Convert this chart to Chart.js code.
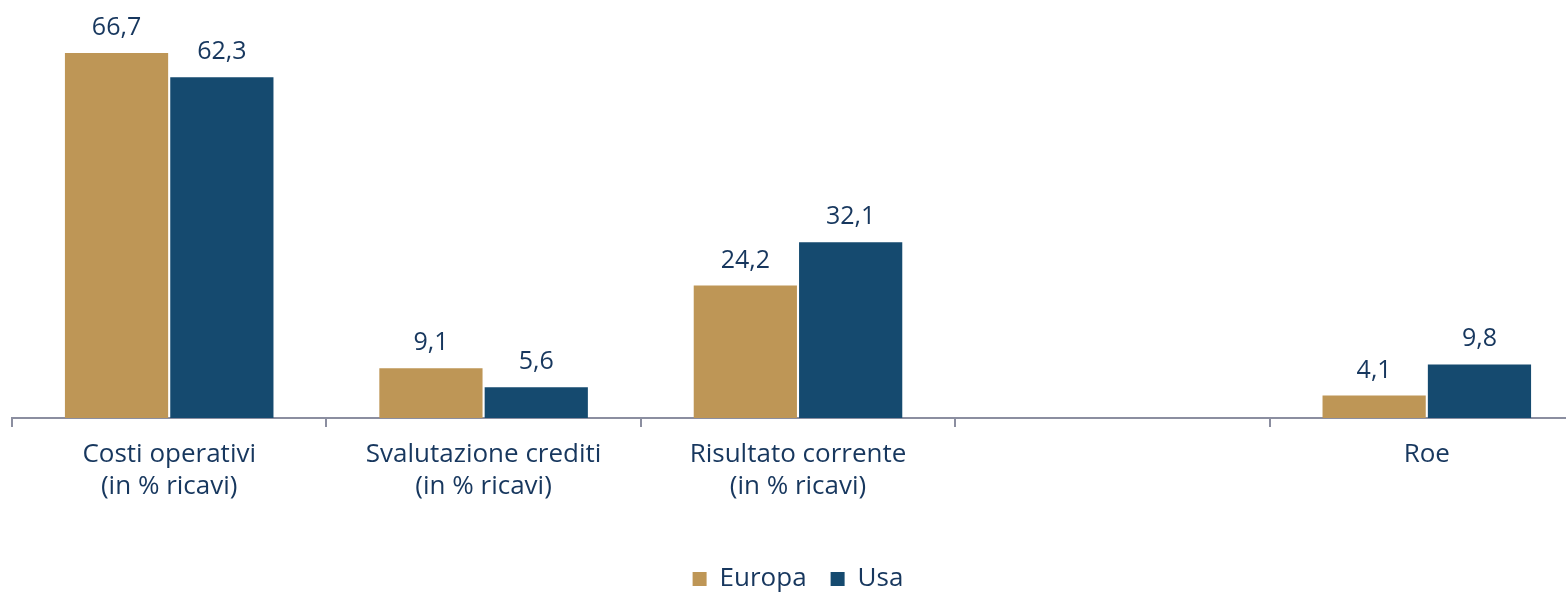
<!DOCTYPE html>
<html lang="it">
<head>
  <meta charset="UTF-8" />
  <title>Europa vs Usa</title>
  <script src="https://cdn.jsdelivr.net/npm/chart.js"></script>
  <style>
    html, body { margin: 0; padding: 0; background: #fff; overflow: hidden; }
    .wrap { width: 1608px; height: 602px; }
  </style>
</head>
<body>
  <div class="wrap"><canvas id="chart"></canvas></div>

  <script>
    // data
    const categories = [
      ["Costi operativi", "(in % ricavi)"],
      ["Svalutazione crediti", "(in % ricavi)"],
      ["Risultato corrente", "(in % ricavi)"],
      "",
      "Roe"
    ];
    const europa = [66.7, 9.1, 24.2, null, 4.1];
    const usa = [62.3, 5.6, 32.1, null, 9.8];

    const textColor = "#17375e";
    const fontFamily = "'Open Sans', sans-serif";

    // draws the value above each bar
    const valueLabels = {
      id: "valueLabels",
      afterDatasetsDraw(chart) {
        const ctx = chart.ctx;
        ctx.save();
        ctx.fillStyle = textColor;
        ctx.font = "25px " + fontFamily;
        ctx.textAlign = "center";
        ctx.textBaseline = "alphabetic";
        chart.data.datasets.forEach((ds, i) => {
          chart.getDatasetMeta(i).data.forEach((bar, j) => {
            const v = ds.data[j];
            if (v == null) return;
            ctx.fillText(v.toFixed(1).replace(".", ","), bar.x, bar.y - 18);
          });
        });
        ctx.restore();
      }
    };

    new Chart(document.getElementById("chart"), {
      type: "bar",
      data: {
        labels: categories,
        datasets: [
          { label: "Europa", data: europa, backgroundColor: "#be9656" },
          { label: "Usa", data: usa, backgroundColor: "#154a6f" }
        ]
      },
      options: {
        responsive: true,
        maintainAspectRatio: false,
        animation: false,
        categoryPercentage: 0.67,
        barPercentage: 0.98,
        layout: { padding: { top: 35, left: 12, right: 24, bottom: 0 } },
        scales: {
          x: {
            afterFit(scale) { scale.height = 124; },
            grid: {
              offset: true,
              drawOnChartArea: false,
              color: "#8b8ea0",
              tickLength: 9,
              lineWidth: 2
            },
            border: { color: "#8b8ea0", width: 2 },
            ticks: {
              color: textColor,
              font: { family: fontFamily, size: 26, lineHeight: 1.25 },
              padding: 11,
              maxRotation: 0,
              autoSkip: false
            }
          },
          y: {
            display: false,
            min: 0,
            max: 70
          }
        },
        plugins: {
          legend: {
            position: "bottom",
            labels: {
              color: textColor,
              font: { family: fontFamily, size: 26 },
              boxWidth: 14,
              boxHeight: 14,
              padding: 24
            }
          },
          tooltip: { enabled: false }
        }
      },
      plugins: [valueLabels]
    });
  </script>
</body>
</html>
